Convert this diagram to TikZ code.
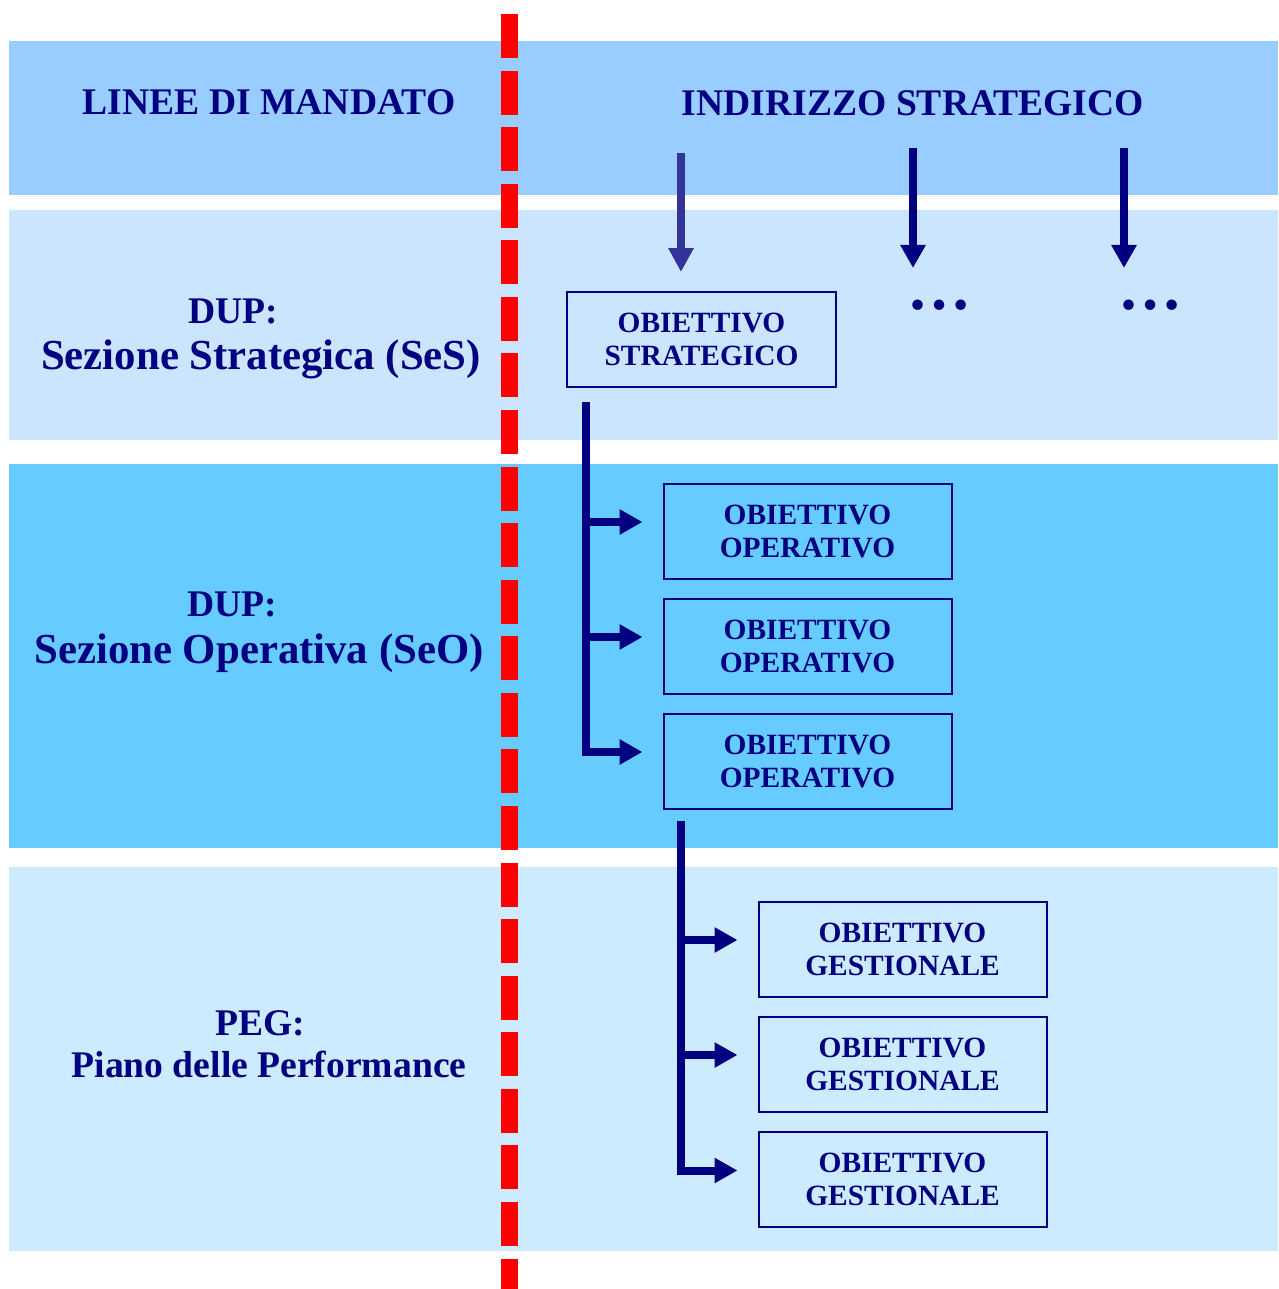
\documentclass[tikz,border=0pt]{standalone}
\usepackage{fontspec}
\setmainfont{Liberation Serif}
\usetikzlibrary{arrows.meta}

\begin{document}
\begin{tikzpicture}[x=1pt,y=-1pt,
  obiettivo/.style={rectangle, draw=blu_notte, line width=2pt, minimum width=269pt, minimum height=95pt,
    align=center, text=blu_notte, font=\fontsize{29.4}{33}\selectfont\bfseries},
  titolo/.style={anchor=base, text=blu_notte, font=\fontsize{37.6}{44}\selectfont\bfseries},
  sezione/.style={anchor=base, text=blu_notte, font=\fontsize{42.8}{50}\selectfont\bfseries},
  ramo/.style={draw=blu_notte, line width=8pt, -{Triangle[length=23pt,width=24pt]}},
  freccia/.style={draw=blu_notte, line width=8pt, -{Triangle[length=23pt,width=24pt]}}]

    \definecolor{blu_notte}{HTML}{000080}
    \definecolor{blu_medio}{HTML}{333399}
    \definecolor{azzurro_testa}{HTML}{99CCFF}
    \definecolor{azzurro_chiaro}{HTML}{CCE5FF}
    \definecolor{azzurro_vivo}{HTML}{66CCFF}
    \definecolor{azzurro_pallido}{HTML}{CCEBFF}
    \definecolor{rosso_linea}{HTML}{FF0000}

  \useasboundingbox (0,0) rectangle (1278,1289);

  % Bands

  \fill[azzurro_testa] (9,41) rectangle (1278,195);
  \fill[azzurro_chiaro] (9,210) rectangle (1278,440);
  \fill[azzurro_vivo] (9,464) rectangle (1278,848);
  \fill[azzurro_pallido] (9,867) rectangle (1278,1251);

  % Dividing line

  \draw[rosso_linea, line width=17pt, dash pattern=on 44pt off 12.57pt] (509.5,14) -- (509.5,1289);

  % Left column

  \node[titolo] (linee) at (269,115) {LINEE DI MANDATO};
  \node[titolo] (dup1) at (233,323) {DUP:};
  \node[sezione] (ses) at (261,369) {Sezione Strategica (SeS)};
  \node[titolo] (dup2) at (232,616) {DUP:};
  \node[sezione] (seo) at (259,663) {Sezione Operativa (SeO)};
  \node[titolo] (peg) at (260,1035) {PEG:};
  \node[titolo] (piano) at (269,1077) {Piano delle Performance};

  % Right column

  \node[titolo] (indirizzo) at (913,116) {INDIRIZZO STRATEGICO};

  \node[obiettivo] (strat) at (701.5,339.5) {OBIETTIVO\\STRATEGICO};

  \node[obiettivo, minimum width=288pt] (op1) at (807.5,531) {OBIETTIVO\\OPERATIVO};
  \node[obiettivo, minimum width=288pt] (op2) at (807.5,646) {OBIETTIVO\\OPERATIVO};
  \node[obiettivo, minimum width=288pt] (op3) at (807.5,761) {OBIETTIVO\\OPERATIVO};

  \node[obiettivo, minimum width=288pt] (ges1) at (902.5,949) {OBIETTIVO\\GESTIONALE};
  \node[obiettivo, minimum width=288pt] (ges2) at (902.5,1064) {OBIETTIVO\\GESTIONALE};
  \node[obiettivo, minimum width=288pt] (ges3) at (902.5,1179.5) {OBIETTIVO\\GESTIONALE};

  \node[anchor=base, text=blu_notte, font=\fontsize{64}{64}\selectfont\bfseries] (altri1) at (939,309) {…};
  \node[anchor=base, text=blu_notte, font=\fontsize{64}{64}\selectfont\bfseries] (altri2) at (1150,309) {…};

  % Arrows from the strategic line

  \coordinate (s1) at (681,153);
  \coordinate (s2) at (913,148);
  \coordinate (s3) at (1124,148);
  \draw[freccia, draw=blu_medio, -{Triangle[length=24pt,width=24pt]}] (s1) -- ([yshift=19pt]strat.north -| s1);
  \draw[freccia] (s2) -- ([yshift=41pt]altri1.base -| s2);
  \draw[freccia] (s3) -- ([yshift=41pt]altri2.base -| s3);

  % Tree of the objectives

  \coordinate (piede_strat) at (586,402);
  \draw[ramo] (piede_strat) |- ([xshift=-20pt,yshift=9pt]op1.west);
  \draw[ramo] (piede_strat) |- ([xshift=-20pt,yshift=9pt]op2.west);
  \draw[ramo] (piede_strat) |- ([xshift=-20pt,yshift=9pt]op3.west);

  \coordinate (piede_op) at (681,821);
  \draw[ramo] (piede_op) |- ([xshift=-20pt,yshift=9pt]ges1.west);
  \draw[ramo] (piede_op) |- ([xshift=-20pt,yshift=9pt]ges2.west);
  \draw[ramo] (piede_op) |- ([xshift=-20pt,yshift=9pt]ges3.west);

\end{tikzpicture}
\end{document}
